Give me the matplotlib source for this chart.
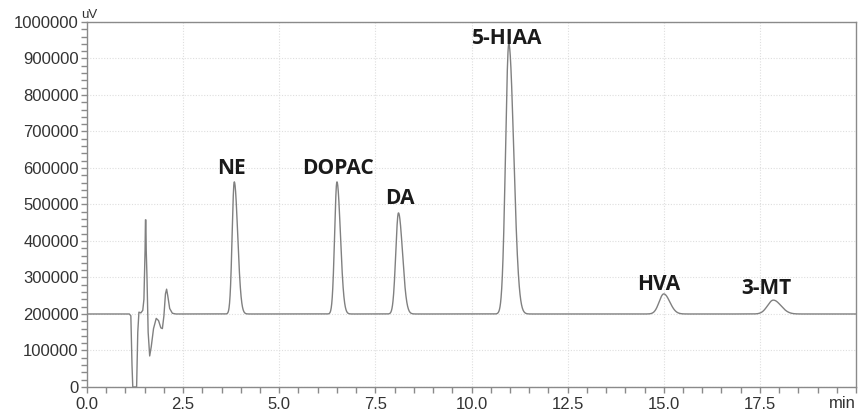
import numpy as np
import matplotlib.pyplot as plt
from matplotlib.ticker import MultipleLocator

# Peak table (retention min, height uV above baseline, sigma min, tail)
names = ["NE", "DOPAC", "DA", "5-HIAA", "HVA", "3-MT"]
rt = [3.83, 6.50, 8.10, 10.97, 15.00, 17.85]
height = [362000, 362000, 277000, 740000, 55000, 38000]
sigma = [0.055, 0.060, 0.070, 0.085, 0.12, 0.15]
tail = [1.6, 1.5, 1.5, 1.5, 1.3, 1.3]

# label nudges in points (dx, dy above peak top)
label_dx = [-2, 1, 1, -1, -4, -5]
label_dy = [2, 2, 3, -4, -1, 1]

# Solvent front read point by point (min, uV)
front_t = [1.10, 1.14, 1.17, 1.19, 1.29, 1.32, 1.35, 1.40, 1.45, 1.48, 1.51,
           1.52, 1.53, 1.54, 1.56, 1.59, 1.63, 1.67, 1.73, 1.80, 1.86, 1.92,
           1.96, 2.00, 2.04, 2.07, 2.10, 2.15, 2.22, 2.30]
front_v = [200000, 195000, 60000, 0, 0, 150000, 205000, 203000, 210000, 240000,
           375000, 458000, 458000, 375000, 300000, 150000, 85000, 110000, 160000,
           188000, 182000, 162000, 160000, 195000, 255000, 268000, 250000, 215000,
           202000, 200000]

baseline = 200000
t = np.linspace(0, 20, 6000)


def peak(x, c, h, s, k):
    # gaussian with a wider trailing side
    w = np.where(x < c, s, s * k)
    return h * np.exp(-0.5 * ((x - c) / w) ** 2)


y = np.full_like(t, baseline, dtype=float)
for c, h, s, k in zip(rt, height, sigma, tail):
    y += peak(t, c, h, s, k)

pre = t < front_t[0]
post = t > front_t[-1]
tt = np.concatenate([t[pre], front_t, t[post]])
yy = np.concatenate([y[pre], front_v, y[post]])

fig = plt.figure(figsize=(8.59, 4.15), dpi=100)
ax = fig.add_axes([0.1013, 0.0675, 0.8952, 0.8795])
ax.plot(tt, yy, color="#808080", lw=1.0)

ax.set_xlim(0, 20)
ax.set_ylim(0, 1000000)
ax.xaxis.set_minor_locator(MultipleLocator(0.5))
ax.yaxis.set_major_locator(MultipleLocator(100000))
ax.yaxis.set_minor_locator(MultipleLocator(20000))
ax.set_xticks([0, 2.5, 5, 7.5, 10, 12.5, 15, 17.5])
ax.set_xticklabels(["0.0", "2.5", "5.0", "7.5", "10.0", "12.5", "15.0", "17.5"])
ax.yaxis.set_major_formatter(plt.FuncFormatter(lambda v, p: "%d" % v))

ax.grid(True, which="major", color="#dedede", linestyle=(0, (1, 1.5)), lw=0.8)
for s in ax.spines.values():
    s.set_color("#8a8a8a")
    s.set_linewidth(1.0)
ax.tick_params(which="both", colors="#8a8a8a", labelcolor="#333333",
               labelsize=12, length=4, width=1)
ax.tick_params(axis="y", which="major", pad=2)
for lab in ax.get_xticklabels() + ax.get_yticklabels():
    lab.set_family(["Liberation Sans", "DejaVu Sans"])

ax.text(0.003, 1.002, "uV", transform=ax.transAxes, ha="center", va="bottom",
        fontsize=9.5, color="#333333", family="Liberation Sans")
ax.text(1.0, -0.025, "min", transform=ax.transAxes, ha="right", va="top",
        fontsize=12, color="#333333", family="Liberation Sans")

for n, c, h, dx, dy in zip(names, rt, height, label_dx, label_dy):
    ax.annotate(n, (c, baseline + h), xytext=(dx, dy), textcoords="offset points",
                ha="center", va="bottom", fontsize=15, fontweight="bold",
                color="#1a1a1a", family="Open Sans")

fig.savefig("out.png", dpi=100)
